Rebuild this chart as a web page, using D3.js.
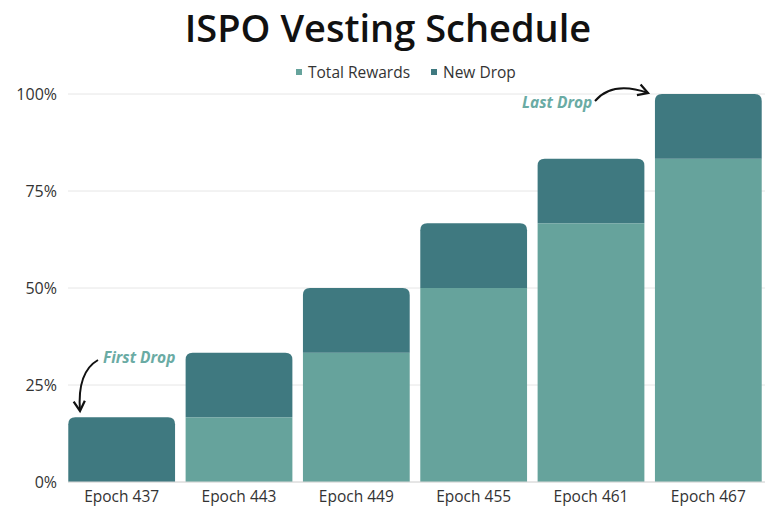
<!DOCTYPE html>
<html>
<head>
<meta charset="utf-8">
<script src="https://cdn.jsdelivr.net/npm/d3@7"></script>
<style>
  body{margin:0;background:#fff;}
  svg{display:block;font-family:"Open Sans",sans-serif;}
</style>
</head>
<body>
<svg width="765" height="511"></svg>
<script>
var epochs=['Epoch 437','Epoch 443','Epoch 449','Epoch 455','Epoch 461','Epoch 467'];
var totalRewards=[0,16.67,33.33,50,66.67,83.33];
var newDrop=[16.67,16.67,16.67,16.67,16.67,16.67];
var yTicks=[0,25,50,75,100];
var seriesNames=['Total Rewards','New Drop'];
var colors=['#66a39c','#3f7980'];

var svg=d3.select('svg');
var margin={top:94,bottom:29,left:63,right:-2};
var width=765,height=511;
var plotHeight=height-margin.top-margin.bottom;

var x=d3.scaleBand()
  .domain(epochs)
  .range([margin.left,width-margin.right])
  .paddingInner(0.09)
  .paddingOuter(0.045);
var y=d3.scaleLinear()
  .domain([0,100])
  .range([margin.top+plotHeight,margin.top]);

// title
svg.append('text')
  .attr('x',388).attr('y',42)
  .attr('text-anchor','middle')
  .attr('font-size',38).attr('font-weight',600)
  .attr('fill','#111')
  .text('ISPO Vesting Schedule');

// legend
var legX=[296,431];
seriesNames.forEach(function(n,i){
  svg.append('rect').attr('x',legX[i]).attr('y',69).attr('width',6).attr('height',6).attr('fill',colors[i]);
  svg.append('text').attr('x',legX[i]+12).attr('y',78)
    .attr('font-size',15.5).attr('fill','#333').text(n);
});

// grid
svg.append('g').selectAll('line')
  .data(yTicks)
  .enter().append('line')
  .attr('x1',68).attr('x2',width)
  .attr('y1',function(d){return y(d);})
  .attr('y2',function(d){return y(d);})
  .attr('stroke','#e6e6e6').attr('stroke-width',1);

// y axis
var yAxis=d3.axisLeft(y).tickValues(yTicks).tickSize(0).tickPadding(0)
  .tickFormat(function(d){return d+'%';});
var yG=svg.append('g').attr('transform','translate(57,0)').call(yAxis);
yG.select('.domain').remove();
yG.selectAll('text').attr('font-size',16).attr('fill','#333').attr('font-family','"Open Sans",sans-serif');

// bars
function topRounded(x0,y0,w,h,r){
  if(h<=0) return '';
  r=Math.min(r,h);
  return 'M'+x0+','+(y0+h)+'V'+(y0+r)+'Q'+x0+','+y0+' '+(x0+r)+','+y0+
    'H'+(x0+w-r)+'Q'+(x0+w)+','+y0+' '+(x0+w)+','+(y0+r)+'V'+(y0+h)+'Z';
}
var bars=svg.append('g');
epochs.forEach(function(e,i){
  var x0=x(e),w=x.bandwidth();
  var t=totalRewards[i],n=newDrop[i];
  if(t>0){
    bars.append('rect').attr('x',x0).attr('y',y(t)).attr('width',w)
      .attr('height',y(0)-y(t)).attr('fill',colors[0]);
  }
  bars.append('path').attr('d',topRounded(x0,y(t+n),w,y(t)-y(t+n),7)).attr('fill',colors[1]);
});

// baseline
svg.append('line').attr('x1',68).attr('x2',width).attr('y1',y(0)).attr('y2',y(0))
  .attr('stroke','#d8d8d8');

// x axis labels
var xAxis=d3.axisBottom(x).tickSize(0).tickPadding(0);
var xG=svg.append('g').attr('transform','translate(0,'+(y(0)+9)+')').call(xAxis);
xG.select('.domain').remove();
xG.selectAll('text').attr('font-size',15.5).attr('fill','#333').attr('font-family','"Open Sans",sans-serif');

// annotations
svg.append('defs').append('marker')
  .attr('id','ah').attr('viewBox','0 0 10 10').attr('refX',8).attr('refY',5)
  .attr('markerWidth',7).attr('markerHeight',7).attr('orient','auto-start-reverse')
  .append('path').attr('d','M1,1 L8,5 L1,9').attr('fill','none').attr('stroke','#111').attr('stroke-width',1.6);

svg.append('text').attr('x',103).attr('y',363).attr('font-size',15.5).attr('font-weight',700)
  .attr('font-style','italic').attr('fill','#6aaba4').text('First Drop');
svg.append('path').attr('d','M98,360 C84,368 78,385 80,411')
  .attr('fill','none').attr('stroke','#111').attr('stroke-width',2).attr('marker-end','url(#ah)');

svg.append('text').attr('x',522).attr('y',108).attr('font-size',15.5).attr('font-weight',700)
  .attr('font-style','italic').attr('fill','#6aaba4').text('Last Drop');
svg.append('path').attr('d','M595,101 C608,86 628,86 648,93')
  .attr('fill','none').attr('stroke','#111').attr('stroke-width',2).attr('marker-end','url(#ah)');
</script>
</body>
</html>
